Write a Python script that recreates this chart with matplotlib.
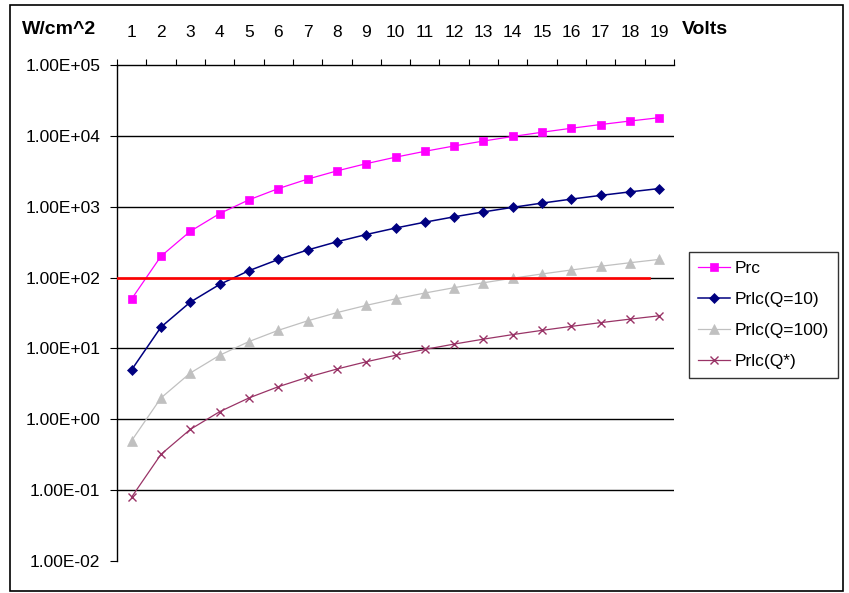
import numpy as np
import matplotlib.pyplot as plt
from matplotlib.patches import Rectangle
from matplotlib.ticker import FixedLocator, FuncFormatter, NullLocator

plt.rcParams['font.family'] = ['Liberation Sans', 'DejaVu Sans']

volts = [1, 2, 3, 4, 5, 6, 7, 8, 9, 10, 11, 12, 13, 14, 15, 16, 17, 18, 19]
prc = [50, 200, 450, 800, 1250, 1800, 2450, 3200, 4050, 5000,
       6050, 7200, 8450, 9800, 11250, 12800, 14450, 16200, 18050]
prlc_q10 = [5, 20, 45, 80, 125, 180, 245, 320, 405, 500,
            605, 720, 845, 980, 1125, 1280, 1445, 1620, 1805]
prlc_q100 = [0.5, 2.0, 4.5, 8.0, 12.5, 18.0, 24.5, 32.0, 40.5, 50.0,
             60.5, 72.0, 84.5, 98.0, 112.5, 128.0, 144.5, 162.0, 180.5]
prlc_qstar = [0.08, 0.32, 0.72, 1.28, 2.0, 2.88, 3.92, 5.12, 6.48, 8.0,
              9.68, 11.52, 13.52, 15.68, 18.0, 20.48, 23.12, 25.92, 28.88]
limit_level = 100
limit_span = (0.5, 18.65)

W, H = 849, 593
fig = plt.figure(figsize=(W / 100, H / 100), dpi=100)
ax = fig.add_axes([117 / W, 32 / H, (674 - 117) / W, (561 - 65) / H])

ax.set_yscale('log')
ax.set_ylim(1e-2, 1e5)
ax.set_xlim(0.5, 19.5)

# horizontal grid, one line per decade (top decade is the axis itself)
for level in np.logspace(-1, 4, 6):
    ax.axhline(level, color='black', lw=1.0, zorder=1)

series = [
    ('Prc', prc, '#FF00FF', 's', 6.0, 0.9),
    ('Prlc(Q=10)', prlc_q10, '#000080', 'D', 5.5, 1.1),
    ('Prlc(Q=100)', prlc_q100, '#C0C0C0', '^', 6.5, 0.9),
    ('Prlc(Q*)', prlc_qstar, '#993366', 'x', 5.5, 0.9),
]
handles = []
for name, vals, col, mk, ms, lw in series:
    h, = ax.plot(volts, vals, color=col, lw=lw, marker=mk, ms=ms,
                 mfc=col, mec=col, mew=1.0 if mk == 'x' else 0.5,
                 label=name, zorder=3)
    handles.append(h)

ax.plot(limit_span, [limit_level, limit_level], color='#FF0000', lw=1.9,
        zorder=4)

# y axis: decades in Excel scientific format
ax.yaxis.set_major_locator(FixedLocator(np.logspace(-2, 5, 8)))
ax.yaxis.set_minor_locator(NullLocator())
ax.yaxis.set_major_formatter(FuncFormatter(lambda v, p: f'{v:.2E}'))
ax.tick_params(axis='y', which='major', direction='out', length=5,
               width=0.8, pad=7, labelsize=12.5, colors='black')

# x axis along the top: ticks between categories, labels on categories
ax.xaxis.tick_top()
ax.xaxis.set_major_locator(FixedLocator(np.arange(0.5, 20, 1.0)))
ax.xaxis.set_major_formatter(FuncFormatter(lambda v, p: ''))
ax.xaxis.set_minor_locator(FixedLocator(volts))
ax.xaxis.set_minor_formatter(FuncFormatter(lambda v, p: f'{int(v)}'))
ax.tick_params(axis='x', which='major', direction='out', length=4,
               width=0.8, top=True, bottom=False)
ax.tick_params(axis='x', which='minor', length=0, pad=18, labelsize=12.5,
               top=True, bottom=False, labeltop=True, labelbottom=False)

for side in ('right', 'bottom'):
    ax.spines[side].set_visible(False)
for side in ('left', 'top'):
    ax.spines[side].set_linewidth(1.0)
    ax.spines[side].set_color('black')

fig.text(59 / W, 1 - 30 / H, 'W/cm^2', ha='center', va='center',
         fontsize=14, fontweight='bold')
fig.text(682 / W, 1 - 30 / H, 'Volts', ha='left', va='center',
         fontsize=14, fontweight='bold')

leg = fig.legend(handles=handles, loc='upper left',
                 bbox_to_anchor=(689 / W, 1 - 252 / H),
                 frameon=True, fancybox=False, shadow=False,
                 fontsize=12.5, handlelength=1.85, handletextpad=0.3,
                 labelspacing=0.92, borderpad=0.5, borderaxespad=0)
leg.get_frame().set_edgecolor('black')
leg.get_frame().set_linewidth(1.0)

fig.patches.append(Rectangle((10 / W, 2 / H), (843 - 10) / W, (588 - 2) / H,
                             transform=fig.transFigure, fill=False,
                             edgecolor='black', lw=1.2))

fig.savefig('out.png', dpi=100)
